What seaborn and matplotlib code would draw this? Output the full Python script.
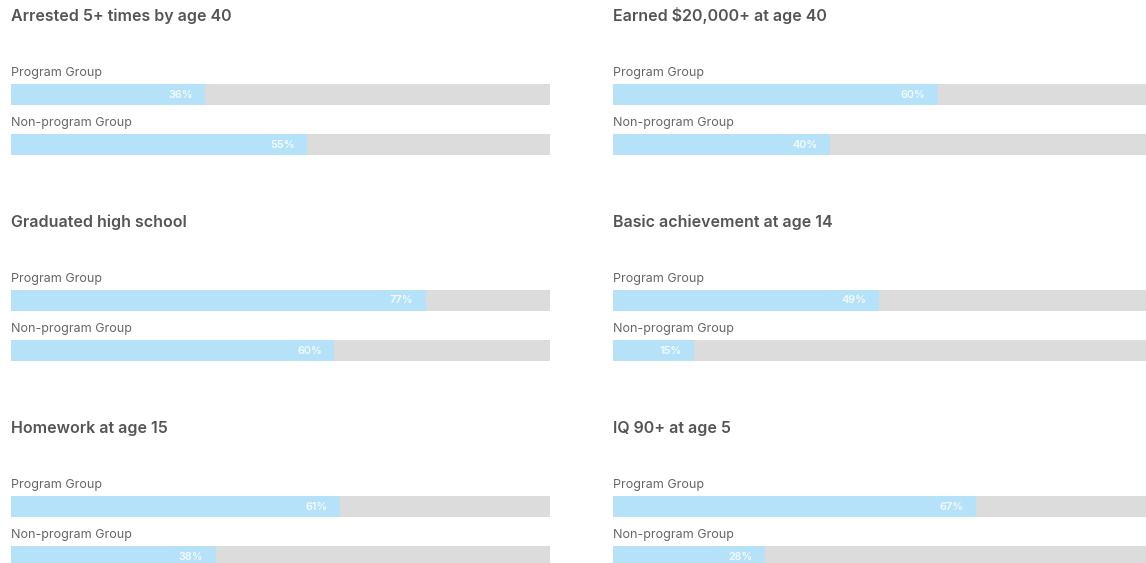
import matplotlib
matplotlib.use("Agg")
import matplotlib.pyplot as plt
import seaborn as sns
import pandas as pd

titles = ["Arrested 5+ times by age 40", "Earned $20,000+ at age 40",
          "Graduated high school", "Basic achievement at age 14",
          "Homework at age 15", "IQ 90+ at age 5"]
groups = ["Program Group", "Non-program Group"]
program_vals = [36, 60, 77, 49, 61, 67]
nonprogram_vals = [55, 40, 60, 15, 38, 28]

sns.set_theme(style="white")
plt.rcParams['font.family'] = ['Inter', 'DejaVu Sans']

W, H = 1146, 563
fig = plt.figure(figsize=(W / 100, H / 100), dpi=100)
fig.patch.set_facecolor("white")

BLUE = "#b5e2f8"
GREY = "#dcdcdc"
TITLE_C = "#555555"
LABEL_C = "#666666"

col_x = [(11, 539), (613, 542)]
row_top = [84, 290, 496]
axes_h = 71
bw = 21 / 50.0

for i, title in enumerate(titles):
    r, c = divmod(i, 2)
    x0, w = col_x[c]
    top = row_top[r]
    ax = fig.add_axes([x0 / W, 1 - (top + axes_h) / H, w / W, axes_h / H])
    df = pd.DataFrame({"group": groups, "full": [100, 100],
                       "value": [program_vals[i], nonprogram_vals[i]]})
    sns.barplot(data=df, x="full", y="group", color=GREY, width=bw,
                saturation=1, ax=ax, orient="h")
    sns.barplot(data=df, x="value", y="group", color=BLUE, width=bw,
                saturation=1, ax=ax, orient="h")
    for p in ax.patches:
        p.set_edgecolor("none")
        p.set_linewidth(0)
    ax.set_xlim(0, 100)
    ax.set_ylim(1 + bw / 2, -bw / 2)
    ax.axis("off")
    for j, g in enumerate(groups):
        ax.text(0, j - bw / 2 - 0.22, g, ha="left", va="center",
                fontsize=9.0, color=LABEL_C, clip_on=False)
        v = df["value"][j]
        ax.annotate(f"{v}%", xy=(v, j), xytext=(-9, 0),
                    textcoords="offset points", ha="right", va="center",
                    fontsize=7.8, color="white", alpha=0.85,
                    fontweight="semibold", annotation_clip=False)
    ax.text(0, -bw / 2 - 1.36, title, ha="left", va="center",
            fontsize=11.5, color=TITLE_C, fontweight="semibold", clip_on=False)

fig.savefig("out.png", dpi=100, facecolor="white")
